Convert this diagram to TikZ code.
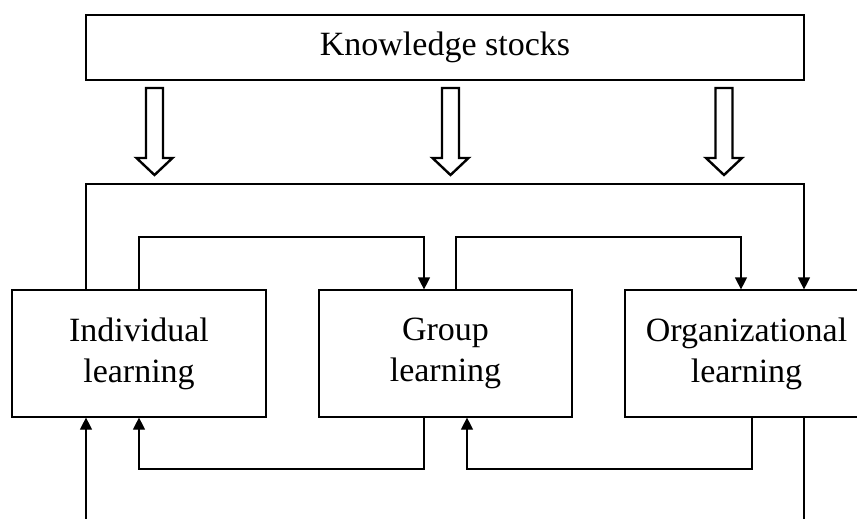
\documentclass[tikz,border=0pt]{standalone}
\usepackage{fontspec}
\setmainfont{Liberation Serif}
\usetikzlibrary{arrows.meta}

\begin{document}
\begin{tikzpicture}[x=.5pt,y=-.5pt,
  box/.style={draw,line width=.6pt,minimum height=63.5pt,inner sep=0pt,align=center,font=\fontsize{17pt}{20.5pt}\selectfont},
  flow/.style={line width=.6pt,-{Triangle[length=6pt,width=6pt]}}]
\useasboundingbox (0,0) rectangle (857,519);
\node[box,minimum width=359pt,minimum height=32.5pt] (stock) at (445,47.5){Knowledge stocks};
\node[box,minimum width=127pt] (ind) at (139,353.5){Individual\\learning};
\node[box,minimum width=126.5pt] (grp) at (445.5,353.5){Group\\learning};
\node[box,minimum width=121.5pt] (org) at (746.5,353.5){Organizational\\learning};
\foreach \x in {154.5,450.5,724}{\draw[line width=1.2pt] ({\x-8.5},88)--({\x+8.5},88)--({\x+8.5},158)--({\x+18},158)--(\x,175)--({\x-18},158)--({\x-8.5},158)--cycle;}
\coordinate (in) at (86,519);\coordinate (out) at (804,519);
\draw[flow] (ind.north -| 86,0)--(86,184)-|(org.north -| 804,0);
\draw[flow] (ind.north -| 139,0)--(139,237)-|(grp.north -| 424,0);
\draw[flow] (grp.north -| 456,0)--(456,237)-|(org.north -| 741,0);
\draw[flow] (grp.south -| 424,0)--(424,469)-|(ind.south -| 139,0);
\draw[flow] (org.south -| 752,0)--(752,469)-|(grp.south -| 467,0);
\draw[flow] (in)--(ind.south -| in);
\draw[line width=.6pt] (org.south -| out)--(out);
\end{tikzpicture}
\end{document}
